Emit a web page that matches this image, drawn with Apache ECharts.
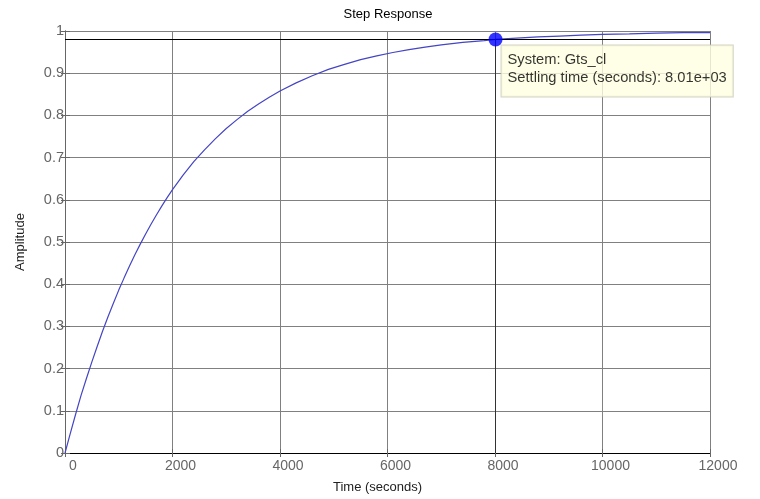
<!DOCTYPE html>
<html>
<head>
<meta charset="utf-8">
<script src="https://cdn.jsdelivr.net/npm/echarts@6/dist/echarts.min.js"></script>
<style>
html,body{margin:0;padding:0;background:#fff;}
#chart{width:760px;height:499px;}
</style>
</head>
<body>
<div id="chart"></div>
<script>
// ---- data ----
const timeSec = [0,100,200,300,400,500,600,700,800,900,1000,1100,1200,1300,1400,1500,1600,1700,1800,1900,
  2000,2200,2400,2600,2800,3000,3200,3400,3600,3800,4000,4300,4600,4900,5200,5500,5800,6100,6400,6700,
  7000,7400,7800,8010,8400,8800,9200,9600,10000,10500,11000,11500,12000];
const amplitude = [0,0.047,0.093,0.137,0.177,0.216,0.253,0.289,0.323,0.355,0.386,0.415,0.443,0.470,0.495,0.519,0.542,0.564,0.585,0.605,
  0.624,0.659,0.691,0.719,0.745,0.769,0.790,0.810,0.827,0.843,0.858,0.877,0.894,0.909,0.921,0.932,0.941,0.949,0.956,0.962,
  0.967,0.973,0.977,0.980,0.983,0.986,0.988,0.990,0.992,0.993,0.995,0.996,0.996];
const settleTime = [8010];
const settleAmp = [0.98];
const systemName = 'Gts_cl';
const chartTitle = 'Step Response';
const xName = 'Time (seconds)';
const yName = 'Amplitude';

function matExp(v){
  const e = Math.floor(Math.log10(v));
  const m = (v / Math.pow(10, e)).toFixed(2);
  return m + 'e' + (e >= 0 ? '+' : '-') + String(Math.abs(e)).padStart(2, '0');
}

const FONT = 'Liberation Sans, Arial, sans-serif';
const chart = echarts.init(document.getElementById('chart'), null, {renderer: 'canvas'});
const curve = timeSec.map((t, i) => [t, amplitude[i]]);

chart.setOption({
  animation: false,
  backgroundColor: '#ffffff',
  textStyle: {fontFamily: FONT},
  graphic: [{
    type: 'text', x: 388, y: 14,
    style: {text: chartTitle, fill: '#000', font: '13px ' + FONT, textAlign: 'center', textVerticalAlign: 'middle'}
  }],
  grid: {left: 65, right: 50, top: 31, bottom: 44},
  xAxis: [{
    type: 'value', min: 0, max: 12000, interval: 2000, position: 'bottom',
    axisLine: {lineStyle: {color: '#666', width: 1}},
    axisTick: {inside: true, length: 4, lineStyle: {color: '#666'}},
    axisLabel: {color: '#666', fontSize: 14, margin: 6, padding: [0, 0, 0, 16], formatter: v => String(v)},
    splitLine: {show: true, lineStyle: {color: '#808080', width: 1}},
    name: xName, nameLocation: 'middle', nameGap: 28,
    nameTextStyle: {color: '#222', fontSize: 13, padding: [0, 20, 0, 0]}
  }, {
    type: 'value', min: 0, max: 12000, interval: 2000, position: 'top',
    axisLine: {show: true, lineStyle: {color: '#000', width: 1}},
    axisTick: {show: true, inside: true, length: 4, lineStyle: {color: '#666'}},
    axisLabel: {show: false}, splitLine: {show: false}
  }],
  yAxis: [{
    type: 'value', min: 0, max: 1, interval: 0.1, position: 'left',
    axisLine: {show: true, lineStyle: {color: '#666', width: 1}},
    axisTick: {show: true, inside: true, length: 5, lineStyle: {color: '#666'}},
    axisLabel: {color: '#666', fontSize: 14.5, margin: 1},
    splitLine: {show: true, lineStyle: {color: '#808080', width: 1}},
    name: yName, nameLocation: 'middle', nameGap: 38, nameRotate: 90,
    nameTextStyle: {color: '#222', fontSize: 13}
  }, {
    type: 'value', min: 0, max: 1, interval: 0.1, position: 'right',
    axisLine: {show: true, lineStyle: {color: '#666', width: 1}},
    axisTick: {show: true, inside: true, length: 4, lineStyle: {color: '#666'}},
    axisLabel: {show: false}, splitLine: {show: false}
  }],
  series: [{
    type: 'line', data: curve, showSymbol: false, symbol: 'none',
    lineStyle: {color: '#4444c4', width: 1.2}, itemStyle: {color: '#4444c4'},
    z: 3,
    markLine: {
      silent: true, symbol: 'none', animation: false,
      label: {show: false},
      lineStyle: {type: 'solid', color: '#000', width: 1},
      data: [
        [{coord: [0, settleAmp[0]]}, {coord: [12000, settleAmp[0]]}],
        [{coord: [settleTime[0], 0], lineStyle: {color: '#333'}}, {coord: [settleTime[0], settleAmp[0]]}]
      ]
    }
  }, {
    type: 'scatter', data: [[settleTime[0], settleAmp[0]]],
    symbol: 'circle', symbolSize: 14, z: 5,
    itemStyle: {color: '#0000ff'},
    label: {
      show: true, position: [13, 13],
      formatter: 'System: ' + systemName + '\nSettling time (seconds): ' + matExp(settleTime[0]),
      color: '#000', fontSize: 14.7, lineHeight: 18, fontFamily: FONT,
      backgroundColor: '#FFFFE1', borderColor: '#C8C8B4', borderWidth: 1,
      padding: [6, 6, 9, 6], align: 'left', verticalAlign: 'top'
    }
  }]
});
</script>
</body>
</html>
